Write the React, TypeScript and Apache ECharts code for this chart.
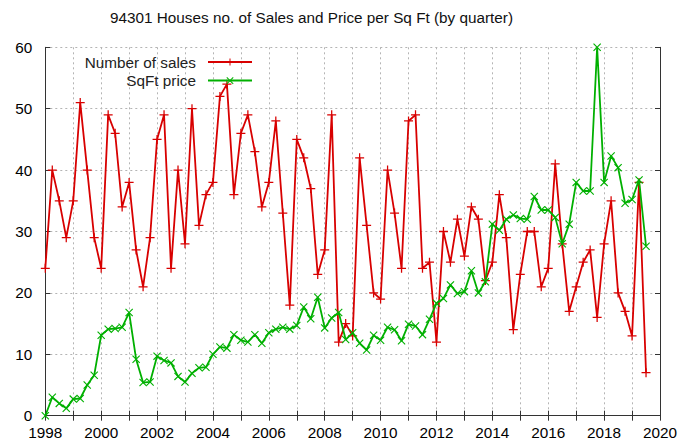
import React, { useEffect, useRef } from "react";
import * as echarts from "echarts";

const startYear = 1998;
const quartersPerYear = 4;

const salesCount = [
  24, 40, 35, 29, 35, 51, 40, 29, 24, 49, 46, 34, 38, 27, 21, 29, 45, 49, 24, 40,
  28, 50, 31, 36, 38, 52, 54, 36, 46, 49, 43, 34, 38, 48, 33, 18, 45, 42, 37, 23,
  27, 49, 12, 15, 13, 42, 31, 20, 19, 40, 33, 24, 48, 49, 24, 25, 12, 30, 25, 32,
  26, 34, 32, 22, 25, 36, 29, 14, 23, 30, 30, 21, 24, 41, 28, 17, 21, 25, 27, 16,
  28, 35, 20, 17, 13, 38, 7,
];

const sqftPrice = [
  0, 3, 2, 1.2, 2.7, 2.8, 5, 6.6, 13.1, 14.1, 14.2, 14.4, 16.8, 9.2, 5.4, 5.5, 9.7, 9, 8.6, 6.4,
  5.5, 6.9, 7.8, 7.9, 10, 11.2, 11, 13.2, 12.3, 12, 13.2, 11.8, 13.5, 14.1, 14.4, 14.1, 14.7, 17.7, 15.8, 19.3,
  14.3, 15.9, 16.8, 12.4, 13.5, 11.8, 10.7, 13.1, 12.3, 14.4, 14, 12.2, 14.9, 14.6, 13.2, 15.7, 18.3, 19.1, 21.3, 19.9,
  20.2, 23.6, 20, 21.8, 31.2, 30.2, 32, 32.7, 32.1, 32, 35.7, 33.5, 33.5, 32.3, 28, 31.2, 38, 36.6, 36.6, 60,
  38, 42.3, 40.4, 34.6, 35.2, 38.4, 27.6,
];

const seriesNames = ["Number of sales", "SqFt price"];
const titleText = "94301 Houses no. of Sales and Price per Sq Ft (by quarter)";

const FONT = "'Liberation Sans', Arial, sans-serif";
const FS = 15.3;
const RED = "#d80000";
const GREEN = "#00b000";

const PLUS = "path://M0,4.3H10V5.7H0Z M4.3,0H5.7V10H4.3Z";
const CROSS = "path://M0,1L1,0L10,9L9,10Z M9,0L10,1L1,10L0,9Z";

export default function App() {
  const ref = useRef<HTMLDivElement>(null);
  useEffect(() => {
    if (!ref.current) return;
    const chart = echarts.init(ref.current, undefined, { renderer: "svg" });
    const toPairs = (arr: number[]) => arr.map((v, i) => [startYear + i / quartersPerYear, v]);
    const splitLine = { show: true, lineStyle: { color: "#b4b4b4", type: [2, 3] as any, width: 1 } };
    const axisLine = { show: true, lineStyle: { color: "#333", width: 1 } };
    const tick = { show: true, inside: true, length: 5, lineStyle: { color: "#333" } };
    const labelStyle = { color: "#000", fontFamily: FONT, fontSize: FS };
    const legendBase = {
      right: 435,
      align: "right",
      itemWidth: 44,
      itemHeight: 9,
      padding: 0,
      textStyle: { ...labelStyle, color: "#222", padding: [0, 7, 0, 0], lineHeight: 18 },
    };
    chart.setOption({
      animation: false,
      title: {
        text: titleText,
        left: 110,
        top: 10,
        padding: 0,
        textStyle: { fontFamily: FONT, fontSize: FS, fontWeight: "normal", color: "#111" },
      },
      legend: [
        { ...legendBase, data: [seriesNames[0]], top: 53 },
        { ...legendBase, data: [seriesNames[1]], top: 71.6 },
      ],
      grid: { left: 45.3, right: 28, top: 47.3, bottom: 29.3, containLabel: false },
      xAxis: [
        {
          type: "value",
          min: 1998,
          max: 2020,
          interval: 1,
          position: "bottom",
          axisLine,
          axisTick: tick,
          splitLine,
          axisLabel: {
            ...labelStyle,
            margin: 9,
            formatter: (v: number) => (v % 2 === 0 ? String(v) : ""),
          },
        },
        {
          type: "value",
          min: 1998,
          max: 2020,
          interval: 1,
          position: "top",
          axisLine,
          axisTick: tick,
          splitLine: { show: false },
          axisLabel: { show: false },
        },
      ],
      yAxis: [
        {
          type: "value",
          min: 0,
          max: 60,
          interval: 10,
          position: "left",
          axisLine,
          axisTick: tick,
          splitLine,
          axisLabel: { ...labelStyle, margin: 13 },
        },
        {
          type: "value",
          min: 0,
          max: 60,
          interval: 10,
          position: "right",
          axisLine,
          axisTick: tick,
          splitLine: { show: false },
          axisLabel: { show: false },
        },
      ],
      series: [
        {
          name: seriesNames[0],
          type: "line",
          xAxisIndex: 0,
          yAxisIndex: 0,
          data: toPairs(salesCount),
          symbol: PLUS,
          symbolSize: 9,
          showAllSymbol: true,
          lineStyle: { color: RED, width: 1.8 },
          itemStyle: { color: RED },
          z: 3,
        },
        {
          name: seriesNames[1],
          type: "line",
          xAxisIndex: 0,
          yAxisIndex: 0,
          data: toPairs(sqftPrice),
          symbol: CROSS,
          symbolSize: 8,
          showAllSymbol: true,
          lineStyle: { color: GREEN, width: 1.8 },
          itemStyle: { color: GREEN },
          z: 4,
        },
      ],
    });
    return () => chart.dispose();
  }, []);
  return <div ref={ref} style={{ width: 688, height: 445, position: "absolute", left: 0, top: 0 }} />;
}
